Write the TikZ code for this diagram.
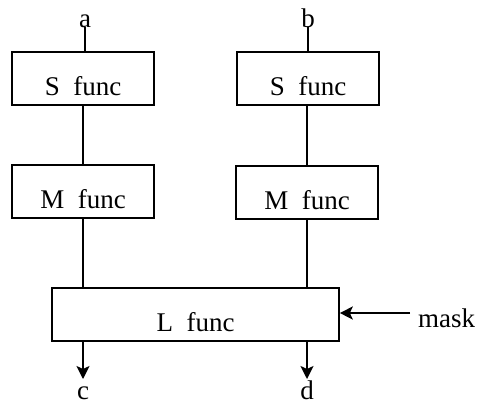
\documentclass[tikz,border=0pt]{standalone}
\usepackage{fontspec}
\setmainfont{Liberation Serif}
\usetikzlibrary{arrows.meta}
\begin{document}
\begin{tikzpicture}[x=1pt,y=-1pt,
  every node/.style={font=\fontsize{27}{32}\selectfont},
  fbox/.style={draw, line width=1.6pt, inner sep=0pt, text height=43pt, text depth=10pt, anchor=center},
  lbl/.style={inner sep=0pt, anchor=base},
  conn/.style={line width=1.9pt},
  arr/.style={line width=1.9pt, -{Stealth[length=13pt,width=13pt,inset=3pt]}}]
\useasboundingbox (0,0) rectangle (478,405);
\node[fbox, minimum width=142pt] (S1) at (83,78.5) {S\ \ func};
\node[fbox, minimum width=142pt] (S2) at (308,78.5) {S\ \ func};
\node[fbox, minimum width=142pt] (M1) at (83,191.5) {M\ \ func};
\node[fbox, minimum width=142pt] (M2) at (307,192.5) {M\ \ func};
\node[fbox, minimum width=287pt] (L) at (195.5,314.5) {L\ \ func};
\node[lbl] (a) at (85,27) {a};
\node[lbl] (b) at (308,27) {b};
\node[lbl] (c) at (83,399) {c};
\node[lbl] (d) at (307,399) {d};
\node[lbl, anchor=base west] (mask) at (418,327) {mask};
\coordinate (ce) at (83,379);
\coordinate (de) at (307,379);
\coordinate (ms) at (410,313);
\draw[conn] (a.south) -- (a.south |- S1.north);
\draw[conn] (b.south) -- (b.south |- S2.north);
\draw[conn] (S1.south) -- (S1.south |- M1.north);
\draw[conn] (M2.north) -- (M2.north |- S2.south);
\draw[conn] (M1.south) -- (M1.south |- L.north);
\draw[conn] (M2.south) -- (M2.south |- L.north);
\draw[arr] (ce |- L.south) -- (ce);
\draw[arr] (de |- L.south) -- (de);
\draw[arr] (ms) -- (ms -| L.east);
\end{tikzpicture}
\end{document}
